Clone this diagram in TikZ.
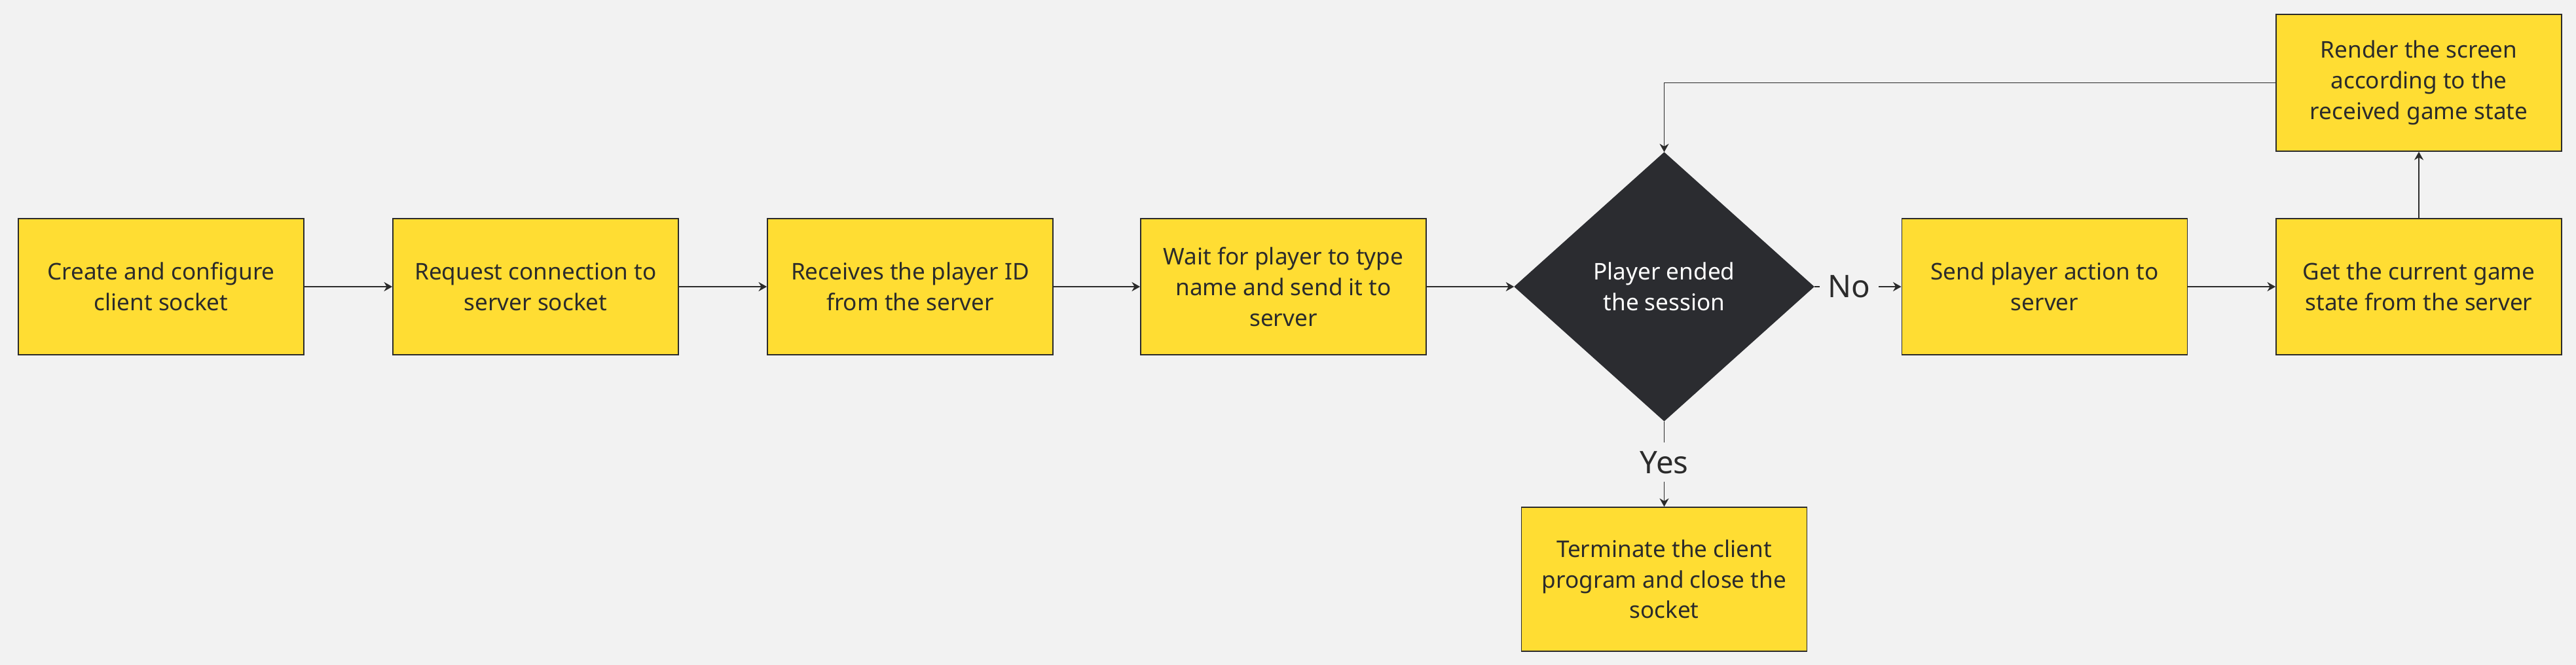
\documentclass[tikz,border=0pt]{standalone}
\usepackage{fontspec}
\setmainfont{Noto Sans}
\usetikzlibrary{shapes,arrows.meta}
\definecolor{bgc}{RGB}{242,242,242}
\definecolor{boxc}{RGB}{255,221,51}
\definecolor{decc}{RGB}{43,44,48}
\definecolor{inkc}{RGB}{43,43,43}

\begin{document}
\begin{tikzpicture}[
    stepbox/.style={draw=inkc,line width=.5pt,fill=boxc,text=inkc,minimum width=4.36cm,
      minimum height=2.08cm,align=center,font=\fontsize{10}{13.3}\selectfont},
    decbox/.style={shape=diamond,draw=decc,fill=decc,text=white,inner sep=0pt,minimum width=4.57cm,
      minimum height=4.10cm,align=center,font=\fontsize{10}{13.3}\selectfont},
    link/.style={draw=inkc,line width=.55pt,-{Stealth[length=3.6pt,width=4pt]}},
    choice/.style={fill=bgc,text=inkc,inner sep=3.6pt,font=\fontsize{13.5}{16}\selectfont}]
      \useasboundingbox(0,0)rectangle(39.34,-10.16);
      \fill[bgc](0,0)rectangle(39.34,-10.16);
      \node[stepbox](create)at(2.46,-4.38){Create and configure\\client socket};
      \node[stepbox](request)at(8.18,-4.38){Request connection to\\server socket};
      \node[stepbox](playerid)at(13.90,-4.38){Receives the player ID\\from the server};
      \node[stepbox](name)at(19.60,-4.38){Wait for player to type\\name and send it to\\server};
      \node[decbox](ended)at(25.415,-4.38){Player ended\\the session};
      \node[stepbox](action)at(31.225,-4.38){Send player action to\\server};
      \node[stepbox](state)at(36.94,-4.38){Get the current game\\state from the server};
      \node[stepbox,minimum height=2.09cm](render)at(36.94,-1.265){Render the screen\\according to the\\received game state};
      \node[stepbox,minimum height=2.20cm](close)at(25.415,-8.85){Terminate the client\\program and close the\\socket};
      \draw[link](create)--(request);
      \draw[link](request)--(playerid);
      \draw[link](playerid)--(name);
      \draw[link](name)--(ended);
      \draw[link](ended.east)--node[choice,pos=.4]{No}(action.west);
      \draw[link](action)--(state);
      \draw[link](state)--(render);
      \draw[link](render.west)-|(ended.north);
      \draw[link](ended.south)--node[choice,pos=.48]{Yes}(close.north);
\end{tikzpicture}
\end{document}
